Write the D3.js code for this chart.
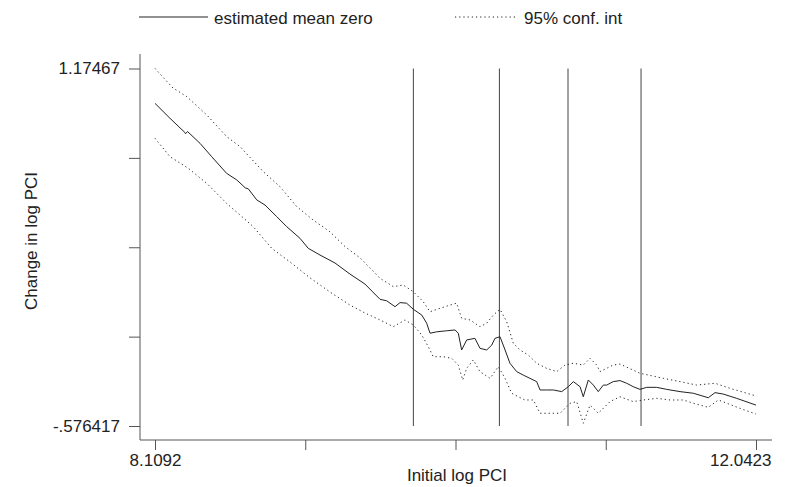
<!DOCTYPE html>
<html>
<head>
<meta charset="utf-8">
<script src="https://cdn.jsdelivr.net/npm/d3@7"></script>
<style>
    body{ margin:0; background:#fff; }
    text{ font-family: "Liberation Sans", Arial, sans-serif; fill:#222; }
</style>
</head>
<body>
<div id="chart"></div>
<script>
// axis ends, as printed on the chart
let xMin = 8.1092, xMax = 12.0423;
let yMin = -0.576417, yMax = 1.17467;
let xTickLabels = ["8.1092", "", "", "", "12.0423"];
let yTickLabels = ["-.576417", "", "", "", "1.17467"];

// vertical reference lines
let xLines = [9.800, 10.363, 10.812, 11.290];

// estimated mean zero, [initial log PCI, change in log PCI]
let meanLine = [
    [8.109, 1.004], [8.207, 0.931], [8.305, 0.861], [8.309, 0.855], [8.322, 0.866], [8.404, 0.808],
    [8.480, 0.743], [8.578, 0.661], [8.644, 0.629], [8.700, 0.590], [8.720, 0.585], [8.775, 0.531],
    [8.829, 0.506], [8.906, 0.449], [8.971, 0.400], [9.058, 0.343], [9.112, 0.294], [9.189, 0.261],
    [9.287, 0.222], [9.385, 0.168], [9.483, 0.119], [9.582, 0.044], [9.625, 0.037], [9.680, 0.008],
    [9.713, 0.028], [9.756, 0.025], [9.800, -0.005], [9.855, -0.033], [9.887, -0.073], [9.909, -0.122],
    [9.953, -0.115], [10.018, -0.110], [10.073, -0.106], [10.094, -0.122], [10.116, -0.204], [10.149, -0.155],
    [10.203, -0.147], [10.236, -0.196], [10.280, -0.204], [10.313, -0.180], [10.334, -0.147], [10.367, -0.139],
    [10.400, -0.204], [10.432, -0.269], [10.476, -0.310], [10.519, -0.327], [10.563, -0.343], [10.607, -0.359],
    [10.629, -0.400], [10.672, -0.400], [10.716, -0.400], [10.771, -0.408], [10.814, -0.384], [10.847, -0.359],
    [10.891, -0.384], [10.912, -0.433], [10.945, -0.351], [10.978, -0.376], [11.010, -0.408], [11.043, -0.376],
    [11.065, -0.376], [11.108, -0.359], [11.152, -0.354], [11.196, -0.367], [11.239, -0.384], [11.283, -0.397],
    [11.327, -0.387], [11.392, -0.387], [11.458, -0.397], [11.545, -0.408], [11.632, -0.416], [11.730, -0.438],
    [11.774, -0.413], [11.828, -0.420], [11.916, -0.441], [12.042, -0.474]
];

// 95% confidence band, upper edge
let upperBand = [
    [8.109, 1.175], [8.227, 1.079], [8.317, 1.037], [8.448, 0.947], [8.578, 0.841], [8.666, 0.792],
    [8.818, 0.669], [8.927, 0.596], [9.037, 0.498], [9.143, 0.433], [9.254, 0.375], [9.353, 0.302],
    [9.451, 0.247], [9.516, 0.198], [9.582, 0.147], [9.669, 0.106], [9.734, 0.114], [9.800, 0.081],
    [9.865, 0.032], [9.909, -0.017], [9.974, 0.000], [10.040, 0.016], [10.083, 0.025], [10.116, -0.049],
    [10.171, -0.057], [10.236, -0.090], [10.280, -0.073], [10.323, -0.033], [10.367, -0.005], [10.411, -0.066],
    [10.454, -0.171], [10.498, -0.204], [10.552, -0.229], [10.607, -0.269], [10.672, -0.294], [10.738, -0.310],
    [10.792, -0.278], [10.847, -0.269], [10.912, -0.278], [10.956, -0.245], [11.000, -0.278], [11.021, -0.310],
    [11.108, -0.278], [11.152, -0.273], [11.283, -0.318], [11.436, -0.343], [11.545, -0.359], [11.654, -0.376],
    [11.774, -0.367], [11.872, -0.392], [12.042, -0.429]
];

// 95% confidence band, lower edge
let lowerBand = [
    [8.109, 0.833], [8.207, 0.743], [8.327, 0.686], [8.448, 0.612], [8.578, 0.514], [8.654, 0.465],
    [8.752, 0.400], [8.873, 0.294], [8.993, 0.227], [9.124, 0.149], [9.254, 0.080], [9.385, 0.016],
    [9.483, -0.023], [9.582, -0.057], [9.669, -0.090], [9.745, -0.057], [9.800, -0.082], [9.855, -0.131],
    [9.898, -0.188], [9.930, -0.237], [9.996, -0.237], [10.051, -0.245], [10.094, -0.278], [10.123, -0.351],
    [10.149, -0.294], [10.192, -0.253], [10.236, -0.310], [10.302, -0.343], [10.356, -0.286], [10.400, -0.343],
    [10.443, -0.416], [10.487, -0.433], [10.530, -0.449], [10.585, -0.449], [10.629, -0.514], [10.694, -0.514],
    [10.760, -0.514], [10.825, -0.465], [10.869, -0.457], [10.912, -0.563], [10.956, -0.474], [11.010, -0.514],
    [11.087, -0.457], [11.152, -0.433], [11.239, -0.457], [11.305, -0.449], [11.392, -0.441], [11.480, -0.449],
    [11.567, -0.449], [11.632, -0.465], [11.730, -0.485], [11.796, -0.449], [11.851, -0.465], [11.938, -0.490],
    [12.042, -0.518]
];

let width = 792, height = 487;
let frame = {left: 140, right: 772, top: 54, bottom: 440};
let lineColor = "#222", axisColor = "#555";
let dotted = "1.2,3";

let svg = d3.select("#chart").append("svg")
    .attr("width", width)
    .attr("height", height);

let x = d3.scaleLinear().domain([xMin, xMax]).range([155, 756]);
let y = d3.scaleLinear().domain([yMin, yMax]).range([426, 68.5]);

let xTicks = d3.range(5).map(i => xMin + i * (xMax - xMin) / 4);
let yTicks = d3.range(5).map(i => yMin + i * (yMax - yMin) / 4);

// axes
let xAxis = svg.append("g")
    .attr("transform", "translate(0," + frame.bottom + ")")
    .call(d3.axisBottom(x).tickValues(xTicks).tickSize(10).tickPadding(4)
        .tickFormat((d, i) => xTickLabels[i]));
let yAxis = svg.append("g")
    .attr("transform", "translate(" + frame.left + ",0)")
    .call(d3.axisLeft(y).tickValues(yTicks).tickSize(11).tickPadding(9)
        .tickFormat((d, i) => yTickLabels[i]));

[xAxis, yAxis].forEach(function(g){
    g.select(".domain").remove();
    g.selectAll(".tick line").attr("stroke", axisColor);
    g.selectAll(".tick text")
        .style("font-size", "17px")
        .style("font-family", "'Liberation Sans', Arial, sans-serif")
        .attr("fill", "#222");
});
// last x label sits flush with the frame's right end
xAxis.selectAll(".tick text").filter((d, i) => i === 4)
    .attr("text-anchor", "end")
    .attr("x", frame.right - 1 - x(xMax));

svg.append("line")
    .attr("x1", frame.left).attr("x2", frame.left)
    .attr("y1", frame.top).attr("y2", frame.bottom)
    .attr("stroke", axisColor);
svg.append("line")
    .attr("x1", frame.left).attr("x2", frame.right)
    .attr("y1", frame.bottom).attr("y2", frame.bottom)
    .attr("stroke", axisColor);

// reference lines
svg.selectAll(".xline")
    .data(xLines)
    .enter()
    .append("line")
    .attr("class", "xline")
    .attr("x1", d => x(d)).attr("x2", d => x(d))
    .attr("y1", y(yMax)).attr("y2", y(yMin))
    .attr("stroke", "#444")
    .attr("stroke-width", 1);

let line = d3.line()
    .x(d => x(d[0]))
    .y(d => y(d[1]));

svg.append("path")
    .datum(meanLine)
    .attr("d", line)
    .attr("fill", "none")
    .attr("stroke", lineColor)
    .attr("stroke-width", 1);

[upperBand, lowerBand].forEach(function(band){
    svg.append("path")
        .datum(band)
        .attr("d", line)
        .attr("fill", "none")
        .attr("stroke", lineColor)
        .attr("stroke-width", 1)
        .attr("stroke-dasharray", dotted);
});

// axis titles
svg.append("text")
    .text("Initial log PCI")
    .attr("x", 457).attr("y", 481)
    .attr("text-anchor", "middle")
    .style("font-size", "17px");

svg.append("text")
    .text("Change in log PCI")
    .attr("text-anchor", "middle")
    .attr("transform", "translate(37,241) rotate(-90)")
    .style("font-size", "17px");

// legend
let legend = [
    {label: "estimated mean zero", dash: null, x1: 139, x2: 208},
    {label: "95% conf. int", dash: dotted, x1: 455, x2: 518}
];
legend.forEach(function(item){
    svg.append("line")
        .attr("x1", item.x1).attr("x2", item.x2)
        .attr("y1", 17).attr("y2", 17)
        .attr("stroke", lineColor)
        .attr("stroke-dasharray", item.dash);
    svg.append("text")
        .text(item.label)
        .attr("x", item.x2 + 6).attr("y", 24)
        .style("font-size", "17px");
});
</script>
</body>
</html>
